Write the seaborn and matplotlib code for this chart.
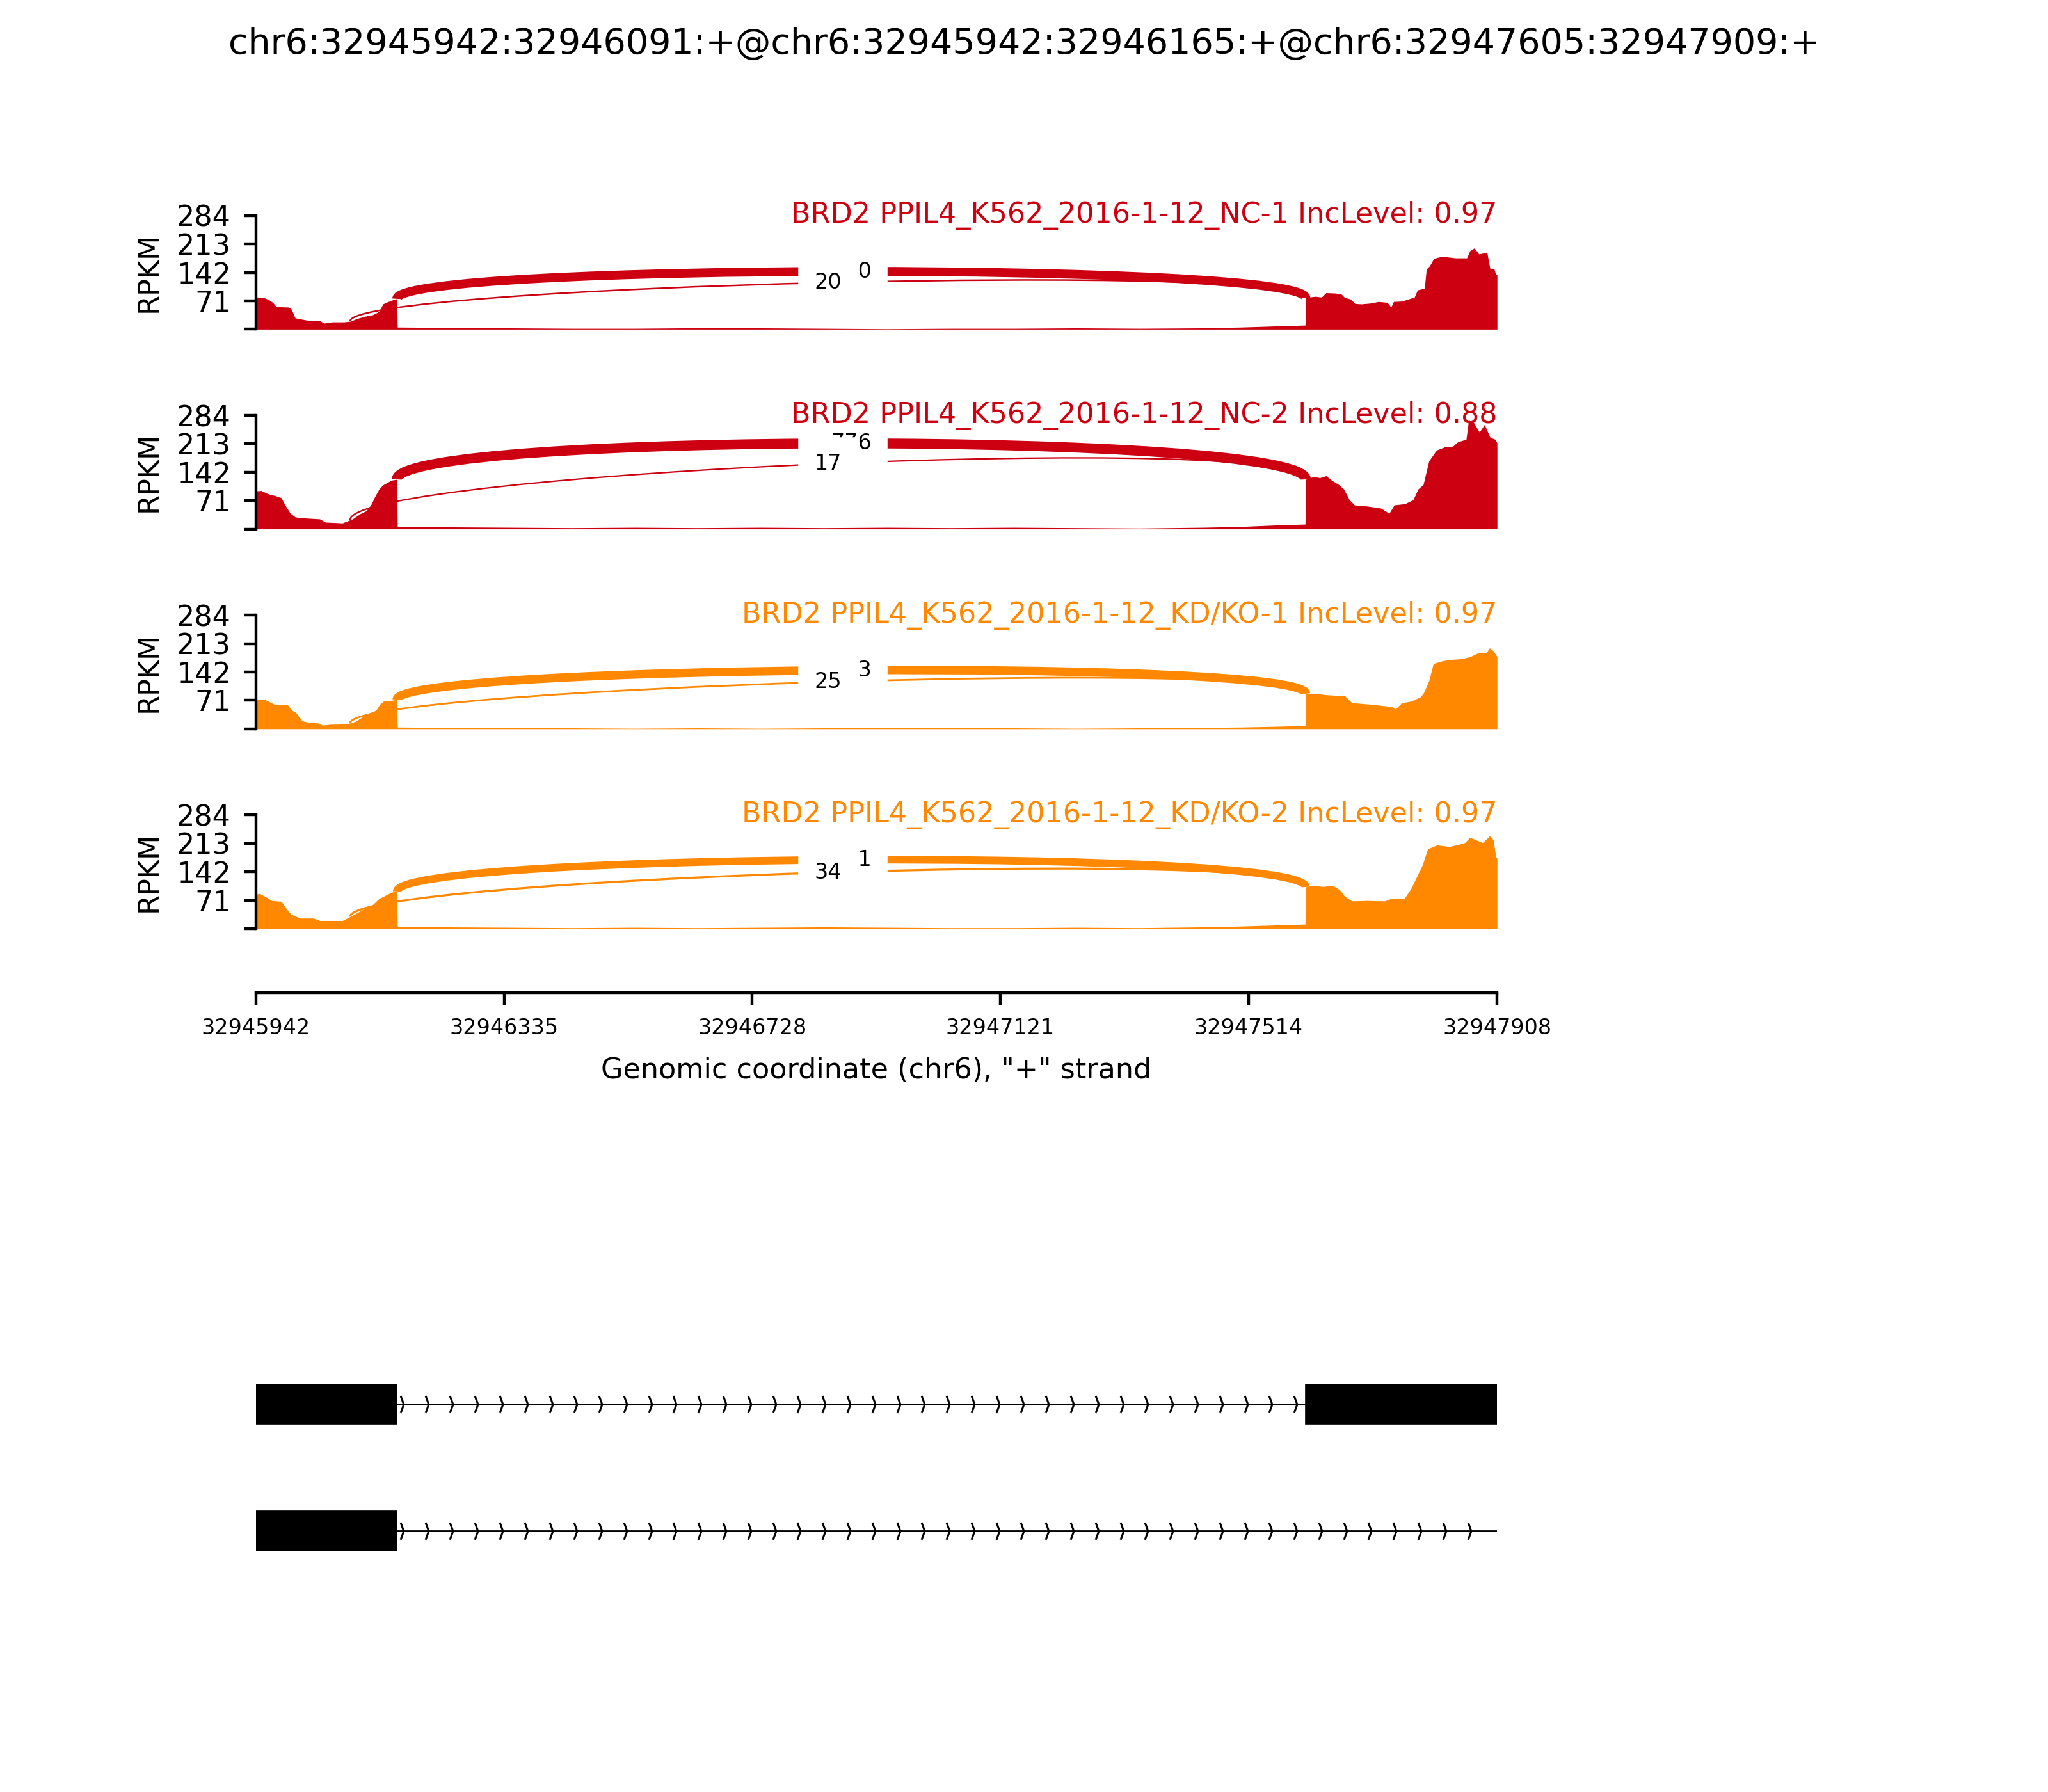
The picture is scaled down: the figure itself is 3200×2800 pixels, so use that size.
# sashimi_plot.py

import numpy as np
import matplotlib.pyplot as plt
import seaborn as sns
from matplotlib.path import Path
from matplotlib.patches import PathPatch, Rectangle

# --- EVENT ---
CHROM = "chr6"
GENE = "BRD2"
EVENT = "chr6:32945942:32946091:+@chr6:32945942:32946165:+@chr6:32947605:32947909:+"
TX_START = 32945942
TX_END = 32947908
EXON_SHORT = (32945942, 32946091)
EXON_LONG = (32945942, 32946165)
EXON_DOWN = (32947605, 32947909)

# --- SAMPLES ---
SAMPLE_NAMES = ["PPIL4_K562_2016-1-12_NC-1", "PPIL4_K562_2016-1-12_NC-2",
                "PPIL4_K562_2016-1-12_KD/KO-1", "PPIL4_K562_2016-1-12_KD/KO-2"]
INC_LEVELS = [0.97, 0.88, 0.97, 0.97]
SAMPLE_COLORS = ["#CC0011", "#CC0011", "#FF8800", "#FF8800"]
JXN_INC = [620, 776, 573, 461]     # long exon1 -> exon2
JXN_SKIP = [20, 17, 25, 34]        # short exon1 -> exon2
ARC_HEIGHT = [90, 120, 88, 98]
Y_MAX = 284
Y_TICKS = [0, 71, 142, 213, 284]
X_TICKS = [32945942, 32946335, 32946728, 32947121, 32947514, 32947908]

# --- COVERAGE (offset from TX_START in bp, RPKM) ---
NC1_POS = [0, 3, 12, 20, 27, 31, 35, 52, 56, 62, 72, 82, 101, 108, 121, 140, 150, 159, 172, 185, 195, 201, 208, 218, 223,
           224, 300, 400, 500, 600, 680, 740, 800, 900, 1000, 1100, 1200, 1300, 1400, 1500, 1560, 1620, 1662,
           1663, 1668, 1678, 1688, 1695, 1710, 1719, 1724, 1734, 1741, 1751, 1765, 1778, 1792, 1798, 1802, 1815, 1825,
           1835, 1840, 1851, 1854, 1859, 1866, 1879, 1900, 1918, 1923, 1930, 1937, 1944, 1950, 1955, 1961, 1964, 1966]
NC1_RPKM = [80, 80, 79, 74, 66, 58, 56, 55, 50, 28, 25, 22, 21, 15, 18, 18, 20, 26, 32, 36, 44, 63, 68, 74, 76,
            5, 4, 3, 2, 2, 3, 4, 3, 2, 1, 2, 2, 3, 2, 3, 5, 8, 10,
            78, 80, 82, 80, 91, 90, 88, 80, 75, 64, 63, 65, 69, 67, 55, 69, 70, 75,
            80, 98, 102, 150, 158, 177, 182, 178, 178, 196, 203, 188, 190, 192, 150, 152, 137, 137]

NC2_POS = [0, 8, 19, 33, 40, 46, 54, 62, 70, 101, 110, 137, 153, 165, 174, 182, 188, 195, 201, 215, 223,
           224, 300, 400, 500, 600, 700, 800, 900, 1000, 1100, 1200, 1300, 1400, 1500, 1560, 1620, 1662,
           1663, 1669, 1677, 1685, 1695, 1702, 1715, 1723, 1732, 1740, 1761, 1782, 1795, 1803, 1820, 1833, 1841,
           1849, 1858, 1870, 1883, 1896, 1904, 1917, 1921, 1929, 1938, 1946, 1955, 1963, 1966]
NC2_RPKM = [95, 96, 88, 82, 78, 60, 40, 30, 28, 25, 17, 15, 25, 38, 45, 60, 80, 100, 110, 122, 124,
            6, 5, 4, 3, 4, 3, 4, 3, 4, 3, 4, 3, 2, 4, 6, 10, 12,
            124, 128, 131, 128, 133, 124, 111, 100, 73, 60, 57, 52, 39, 60, 63, 73, 100,
            111, 170, 197, 205, 207, 218, 224, 272, 266, 242, 261, 229, 224, 215]

KD1_POS = [0, 2, 12, 18, 28, 34, 50, 57, 63, 73, 80, 99, 105, 118, 144, 157, 177, 190, 196, 202, 215, 223,
           224, 300, 400, 500, 600, 700, 800, 900, 1000, 1100, 1200, 1300, 1400, 1500, 1560, 1620, 1662,
           1663, 1680, 1695, 1725, 1736, 1760, 1778, 1800, 1805, 1815, 1830, 1845, 1850, 1858, 1865, 1880,
           1892, 1910, 1923, 1935, 1949, 1954, 1960, 1966]
KD1_RPKM = [70, 73, 74, 70, 62, 60, 60, 46, 41, 20, 17, 14, 9, 11, 12, 18, 38, 46, 61, 69, 71, 73,
            4, 3, 2, 2, 1, 2, 1, 2, 2, 3, 2, 1, 2, 3, 4, 6, 8,
            88, 88, 85, 82, 65, 62, 59, 55, 49, 65, 69, 80, 91, 120, 163, 170,
            173, 175, 180, 189, 190, 202, 195, 180]

KD2_POS = [0, 5, 15, 25, 40, 48, 55, 70, 91, 101, 137, 153, 174, 185, 195, 215, 223,
           224, 300, 400, 500, 600, 700, 800, 900, 1000, 1100, 1200, 1300, 1400, 1500, 1560, 1620, 1662,
           1663, 1675, 1690, 1705, 1716, 1725, 1736, 1760, 1788, 1798, 1819, 1830, 1840, 1848, 1856, 1871,
           1890, 1902, 1915, 1923, 1935, 1943, 1950, 1954, 1960, 1964, 1966]
KD2_RPKM = [85, 88, 80, 70, 68, 50, 36, 26, 26, 20, 20, 33, 52, 60, 75, 91, 93,
            5, 4, 3, 2, 3, 2, 3, 4, 3, 2, 2, 3, 2, 4, 6, 9, 11,
            104, 108, 105, 108, 98, 80, 69, 70, 69, 75, 75, 101, 134, 160, 199, 209,
            205, 209, 215, 228, 220, 215, 225, 232, 222, 180, 176]

COV_POS = [NC1_POS, NC2_POS, KD1_POS, KD2_POS]
COV_RPKM = [NC1_RPKM, NC2_RPKM, KD1_RPKM, KD2_RPKM]

# --- GENE MODEL ---
TX1_EXONS = [EXON_LONG, EXON_DOWN]
TX1_INTRON = (EXON_LONG[1], EXON_DOWN[0])
TX2_EXONS = [EXON_LONG]
TX2_INTRON = (EXON_LONG[1], EXON_DOWN[1])

sns.set_style("white")
plt.rcParams["font.family"] = ["DejaVu Sans"]
plt.rcParams.update({"text.color": "black", "axes.labelcolor": "black",
                     "xtick.color": "black", "ytick.color": "black",
                     "axes.edgecolor": "black"})

fig = plt.figure(figsize=(8, 7), dpi=400)
fig.suptitle(EVENT, fontsize=10, y=0.985)

AX_LEFT, AX_W, AX_H = 0.125, 0.606, 0.0634
AX_BOTTOMS = [0.8163, 0.7048, 0.5933, 0.4818]


def draw_arc(ax, ss1, ss2, ldens, rdens, h, color, count):
    pts = [(ss1, ldens), (ss1, ldens + h), (ss2, rdens + h), (ss2, rdens)]
    path = Path(pts, [Path.MOVETO, Path.CURVE4, Path.CURVE4, Path.CURVE4])
    ax.add_patch(PathPatch(path, ec=color, fc="none", lw=0.1 * np.sqrt(count)))
    mid_x = (ss1 + ss2) / 2
    mid_y = (ldens + 3 * (ldens + h) + 3 * (rdens + h) + rdens) / 8
    ax.text(mid_x, mid_y, str(count), fontsize=6, ha="center", va="center",
            backgroundcolor="w")


axes = []
for i in range(4):
    ax = fig.add_axes([AX_LEFT, AX_BOTTOMS[i], AX_W, AX_H])
    axes.append(ax)
    color = SAMPLE_COLORS[i]
    pos = np.array(COV_POS[i])
    rpkm = np.array(COV_RPKM[i])
    ax.fill_between(TX_START + pos, 0, rpkm, color=color, lw=0)

    ss2 = EXON_DOWN[0]
    rdens = np.interp(ss2 - TX_START, pos, rpkm)
    for ss1, count in [(EXON_LONG[1], JXN_INC[i]), (EXON_SHORT[1], JXN_SKIP[i])]:
        ldens = np.interp(ss1 - TX_START, pos, rpkm)
        draw_arc(ax, ss1, ss2, ldens, rdens, ARC_HEIGHT[i], color, count)

    ax.text(TX_END, Y_MAX, f"{GENE} {SAMPLE_NAMES[i]} IncLevel: {INC_LEVELS[i]:.2f}",
            fontsize=8, ha="right", va="center", color=color)

    ax.set_xlim(TX_START, TX_END)
    ax.set_ylim(0, Y_MAX)
    ax.set_yticks(Y_TICKS)
    ax.set_yticklabels([""] + [str(t) for t in Y_TICKS[1:]], fontsize=8)
    ax.set_ylabel("RPKM", fontsize=8)
    ax.tick_params(axis="y", direction="out", length=3.5, width=0.8, left=True)
    sns.despine(ax=ax, top=True, right=True, bottom=(i < 3))
    ax.set_facecolor("none")
    if i < 3:
        ax.set_xticks([])
    else:
        ax.spines["bottom"].set_position(("outward", 18))
        ax.set_xticks(X_TICKS)
        ax.set_xticklabels([str(t) for t in X_TICKS], fontsize=6)
        ax.tick_params(axis="x", direction="out", length=3.5, width=0.8, bottom=True)
        ax.set_xlabel(f'Genomic coordinate ({CHROM}), "+" strand', fontsize=8, labelpad=5)

# --- GENE MODEL TRACKS ---
ax_g = fig.add_axes([AX_LEFT, 0.08, AX_W, 0.2])
ax_g.set_xlim(TX_START, TX_END)
ax_g.set_ylim(-1.93, 0.9)
ax_g.axis("off")

chevron = Path([(-0.185, 1), (0.185, 0), (-0.185, -1)], [Path.MOVETO, Path.LINETO, Path.LINETO])
arrow_step = (TX_END - TX_START) / 50.0
exon_h = 0.31

for yloc, exons, intron in [(0, TX1_EXONS, TX1_INTRON), (-1, TX2_EXONS, TX2_INTRON)]:
    ax_g.plot(intron, [yloc, yloc], color="k", lw=0.5, solid_capstyle="butt")
    xs = np.arange(intron[0] + 8, intron[1] - 15, arrow_step)
    ax_g.plot(xs, np.full(len(xs), yloc), linestyle="none", marker=chevron,
              ms=4.8, mfc="none", mec="k", mew=0.55)
    for s, e in exons:
        ax_g.add_patch(Rectangle((s, yloc - exon_h / 2), e - s, exon_h,
                                 fc="k", ec="k", lw=0.3, zorder=3))

fig.savefig("out.png", dpi=400)
